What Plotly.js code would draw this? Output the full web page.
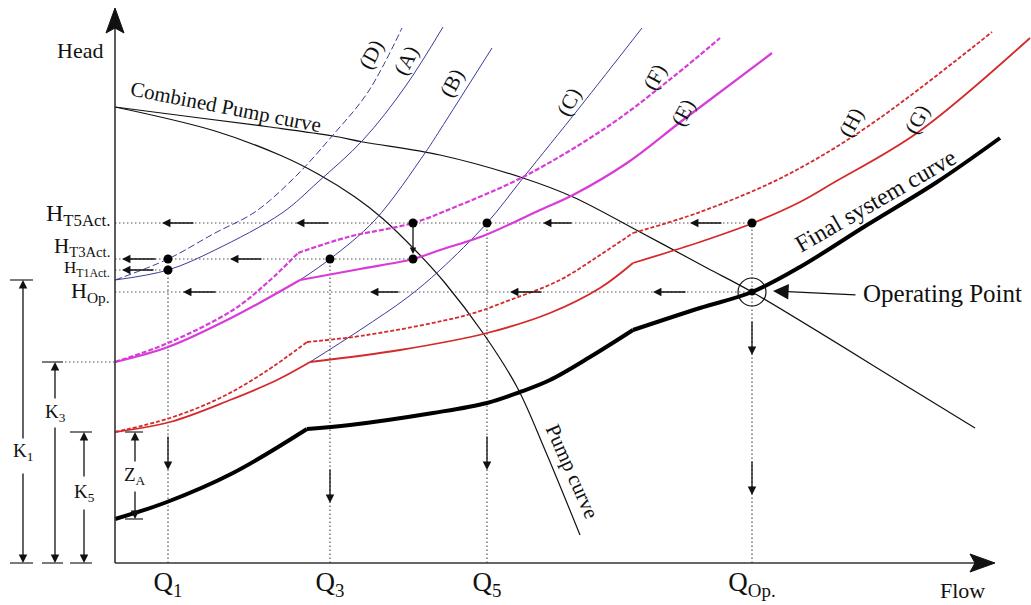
<!DOCTYPE html>
<html>
<head>
<meta charset="utf-8">
<script src="https://cdn.plot.ly/plotly-3.0.1.min.js"></script>
<style>html,body{margin:0;padding:0;background:#fff}#chart{width:1031px;height:605px}</style>
</head>
<body>
<div id="chart"></div>
<script>
// ---------- data (flow / head in arbitrary units) ----------
const qFlow = [53, 215, 372, 637];
const qText = ['Q<sub>1</sub>', 'Q<sub>3</sub>', 'Q<sub>5</sub>', 'Q<sub>Op.</sub>'];
const hLevel = [340, 304, 293, 271];
const hText = ['H<sub>T5Act.</sub>', 'H<sub>T3Act.</sub>', 'H<sub>T1Act.</sub>', 'H<sub>Op.</sub>'];
const hLineEnd = [637, 298, 53, 637];
const qLineTop = [304, 304, 340, 340];

const combinedFlow = [0, 85, 155, 218, 248, 325, 408, 458, 525, 592, 637, 798, 860];
const combinedHead = [456, 445, 436, 427, 421, 408, 385, 366, 331, 295, 271, 173, 135];
const pumpFlow = [0, 100, 167, 203, 240, 267, 302, 330, 368, 402, 430, 465];
const pumpHead = [456, 432, 407, 389, 366, 345, 311, 280, 230, 176, 113, 28];

const dFlow = [0, 53, 100, 140, 180, 218, 253, 287];
const dHead = [283, 304, 330, 351, 386, 428, 471, 535];
const aFlow = [0, 53, 100, 167, 203, 248, 290, 328];
const aHead = [283, 293, 313, 350, 381, 423, 476, 536];
const bFlow = [185, 215, 260, 310, 325, 377];
const bHead = [283, 304, 343, 410, 433, 515];
const cFlow = [195, 245, 293, 325, 372, 408, 465, 527];
const cHead = [201, 233, 266, 293, 340, 385, 456, 535];

const fFlow = [0, 53, 118, 153, 183, 233, 298, 340, 408, 492, 558, 605];
const fHead = [201, 220, 253, 281, 310, 326, 340, 356, 386, 436, 486, 525];
const eFlow = [0, 53, 118, 185, 245, 298, 325, 368, 425, 458, 512, 568, 657];
const eHead = [201, 216, 246, 283, 294, 304, 313, 327, 353, 368, 400, 443, 510];

const hFlow = [0, 55, 105, 150, 192, 252, 352, 395, 445, 485, 518, 585, 668, 752, 877];
const hHead = [131, 145, 165, 191, 221, 228, 248, 263, 283, 308, 330, 351, 386, 436, 531];
const gFlow = [0, 55, 115, 162, 195, 285, 372, 435, 485, 518, 585, 638, 685, 718, 802, 915];
const gHead = [131, 141, 163, 183, 201, 213, 230, 250, 275, 300, 321, 340, 361, 380, 430, 525];

const finalFlow = [0, 52, 118, 192, 235, 318, 372, 405, 435, 475, 518, 585, 637, 685, 752, 822, 885];
const finalHead = [44, 61, 90, 134, 138, 150, 160, 171, 183, 206, 233, 255, 271, 296, 338, 381, 425];

const dotFlow = [53, 53, 215, 298, 298, 372, 637];
const dotHead = [304, 293, 304, 340, 304, 340, 340];
const opFlow = [637];
const opHead = [271];

const k1 = 283, k3 = 201, k5 = 131, zBase = 44;

// ---------- styles ----------
const serif = 'Liberation Serif, Times New Roman, serif';
const blue = '#3a3a9c', magenta = '#d83bd8', red = '#d42a2a';

// break a curve at its kink points so each piece is smoothed on its own
function splitAt(arr, idxs) {
  const out = [];
  arr.forEach((v, i) => { out.push(v); if (idxs.includes(i)) out.push(null, v); });
  return out;
}
function line(x, y, color, width, dash, kinks) {
  const k = kinks || [];
  return {type: 'scatter', mode: 'lines', x: splitAt(x, k), y: splitAt(y, k), hoverinfo: 'skip',
    connectgaps: false,
    line: {color: color, width: width, dash: dash || 'solid', shape: 'spline', smoothing: 1}};
}

// dotted guide lines
const gx = [], gy = [];
hLevel.forEach((h, i) => { gx.push(0, hLineEnd[i], null); gy.push(h, h, null); });
qFlow.forEach((q, i) => { gx.push(q, q, null); gy.push(0, qLineTop[i], null); });
gx.push(-50, 0, null); gy.push(k3, k3, null);

const traces = [
  {type: 'scatter', mode: 'lines', x: gx, y: gy, hoverinfo: 'skip', connectgaps: false,
   line: {color: '#555', width: 1.2, dash: '1.5px,2.5px'}},
  line(combinedFlow, combinedHead, '#111', 1.2),
  line(pumpFlow, pumpHead, '#111', 1.2),
  line(dFlow, dHead, blue, 1, '7px,3px'),
  line(aFlow, aHead, blue, 1),
  line(bFlow, bHead, blue, 1),
  line(cFlow, cHead, blue, 1),
  line(fFlow, fHead, magenta, 2.2, '5px,2px', [4]),
  line(eFlow, eHead, magenta, 2.2, null, [3]),
  line(hFlow, hHead, red, 1.8, '4px,2px', [4, 10]),
  line(gFlow, gHead, red, 1.8, null, [4, 9]),
  line(finalFlow, finalHead, '#000', 4, null, [3, 10]),
  {type: 'scatter', mode: 'markers', x: dotFlow, y: dotHead, hoverinfo: 'skip',
   marker: {color: '#000', size: 9}},
  {type: 'scatter', mode: 'markers', x: opFlow, y: opHead, hoverinfo: 'skip',
   marker: {color: '#111', size: 28, symbol: 'circle-open', line: {color: '#111', width: 1.2}}},
  {type: 'scatter', mode: 'markers', x: opFlow, y: opHead, hoverinfo: 'skip',
   marker: {color: '#000', size: 7}}
];

// ---------- annotations ----------
const ann = [];
function arrow(x0, y0, x1, y1, size, head) {
  ann.push({x: x1, y: y1, ax: x0, ay: y0, xref: 'x', yref: 'y', axref: 'x', ayref: 'y',
    text: '', showarrow: true, arrowhead: head || 2, arrowsize: size || 1.3, arrowwidth: 1.3,
    arrowcolor: '#111', standoff: 0, startstandoff: 0});
}
function label(x, y, text, size, angle, xanchor) {
  ann.push({x: x, y: y, xref: 'x', yref: 'y', text: text, showarrow: false,
    textangle: angle || 0, xanchor: xanchor || 'center', yanchor: 'middle',
    font: {family: serif, size: size, color: '#111'}});
}

// leftward arrows on the head levels
[[80, 47], [215, 181], [458, 428], [608, 575]].forEach(a => arrow(a[0], hLevel[0], a[1], hLevel[0]));
[[42, 7], [148, 115]].forEach(a => arrow(a[0], hLevel[1], a[1], hLevel[1]));
arrow(40, hLevel[2], 7, hLevel[2]);
[[102, 68], [285, 255], [428, 395], [572, 538]].forEach(a => arrow(a[0], hLevel[3], a[1], hLevel[3]));
// downward arrows on the flow lines
arrow(qFlow[0], 128, qFlow[0], 93);
arrow(qFlow[1], 95, qFlow[1], 60);
arrow(qFlow[2], 128, qFlow[2], 93);
arrow(qFlow[3], 103, qFlow[3], 68);
arrow(qFlow[3], 243, qFlow[3], 208);
arrow(298, 340, 298, 309, 1.0);
// operating point pointer
arrow(742, 268, 658, 272, 2.4, 2);

// dimension arrows
arrow(-92, 123, -92, k1); arrow(-92, 91, -92, 0);
arrow(-60, 163, -60, k3); arrow(-60, 137, -60, 0);
arrow(-31, 85, -31, k5); arrow(-31, 55, -31, 0);
arrow(20, 100, 20, k5); arrow(20, 73, 20, zBase);

label(-92, 111, 'K<sub>1</sub>', 19);
label(-60, 150, 'K<sub>3</sub>', 19);
label(-31, 70, 'K<sub>5</sub>', 19);
label(20, 87, 'Z<sub>A</sub>', 19);

// head level labels
const hSizes = [24, 21, 17, 22];
const hPos = [348, 316, 294, 271];
hText.forEach((t, i) => label(-3, hPos[i], t, hSizes[i], 0, 'right'));

label(-35, 513, 'Head', 22);
label(847, -27, 'Flow', 22);
label(111, 456, 'Combined Pump curve', 21, 11);
label(457, 92, 'Pump curve', 21, 66);
label(760, 362, 'Final system curve', 24, -30);
label(746, 270, 'Operating Point', 25, 0, 'left');

const curveLabels = [['(D)', 256, 508], ['(A)', 291, 502], ['(B)', 337, 480], ['(C)', 454, 461],
  ['(F)', 540, 486], ['(E)', 568, 450], ['(H)', 736, 440], ['(G)', 802, 443]];
curveLabels.forEach(c => label(c[1], c[2], c[0], 21, -62));

// ---------- shapes: axes and dimension ticks ----------
const shapes = [];
function seg(x0, y0, x1, y1, w) {
  shapes.push({type: 'line', xref: 'x', yref: 'y', x0: x0, y0: y0, x1: x1, y1: y1,
    line: {color: '#333', width: w || 1.3}});
}
seg(0, 0, 0, 535, 1.6);
seg(0, 0, 862, 0, 1.6);
shapes.push({type: 'path', xref: 'x', yref: 'y', path: 'M -9,530 L 0,555 L 9,530 L 0,535 Z',
  fillcolor: '#111', line: {color: '#111', width: 1}});
shapes.push({type: 'path', xref: 'x', yref: 'y', path: 'M 855,-9 L 880,0 L 855,9 L 860,0 Z',
  fillcolor: '#111', line: {color: '#111', width: 1}});
seg(-105, k1, -82, k1); seg(-105, 0, -82, 0);
seg(-73, k3, -52, k3); seg(-73, 0, -52, 0);
seg(-45, k5, -23, k5); seg(-45, 0, -23, 0);
seg(10, k5, 28, k5); seg(10, zBase, 28, zBase);

const layout = {
  width: 1031, height: 605,
  margin: {l: 0, r: 0, t: 0, b: 0},
  paper_bgcolor: '#fff', plot_bgcolor: '#fff',
  showlegend: false,
  xaxis: {range: [-115, 916], showgrid: false, zeroline: false, showline: false,
    anchor: 'free', position: 42 / 605, ticks: '', tickvals: qFlow, ticktext: qText,
    tickfont: {family: serif, size: 27, color: '#111'}, fixedrange: true},
  yaxis: {range: [-42, 563], showgrid: false, zeroline: false, showline: false,
    showticklabels: false, ticks: '', fixedrange: true},
  annotations: ann,
  shapes: shapes
};

Plotly.newPlot('chart', traces, layout, {staticPlot: true, displayModeBar: false});
</script>
</body>
</html>
